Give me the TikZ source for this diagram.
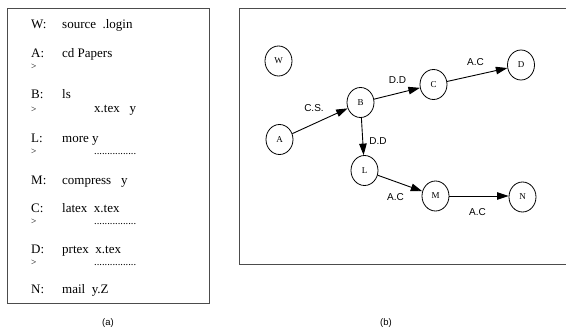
\documentclass[tikz,border=0pt]{standalone}
\usepackage{fontspec}
\setmainfont{Liberation Serif}
\newfontfamily\sansf{Liberation Sans}
\usetikzlibrary{shapes.geometric,arrows.meta}
\tikzset{
  st/.style={ellipse,draw,line width=0.8pt,minimum width=27pt,minimum height=30pt,inner sep=0pt,font=\fontsize{9}{10}\selectfont},
  conn/.style={line width=0.9pt,-{Triangle[length=11.5pt,width=7.5pt]}},
  elab/.style={font=\sansf\fontsize{10}{11}\selectfont,inner sep=0pt},
  capt/.style={font=\sansf\fontsize{9.5}{10}\selectfont,inner sep=0pt},
  lab/.style={anchor=base west,inner sep=0pt,font=\fontsize{13}{14}\selectfont},
  prompt/.style={anchor=base west,inner sep=0pt,font=\fontsize{9.5}{10}\selectfont},
  dots/.style={anchor=base west,inner sep=0pt,font=\fontsize{10.5}{11}\selectfont},
  boxline/.style={draw=black!70,line width=0.9pt}
}
\begin{document}
\begin{tikzpicture}[x=1pt,y=-1pt]
\useasboundingbox (0,0) rectangle (566,331);
% left box
\draw[boxline] (7.5,8) rectangle (209,303);
\node[lab] (lw) at (31,29) {W:};
\node[lab] (cw) at (62,29) {source\ \ .login};
\node[lab] (la) at (31,57.5) {A:};
\node[lab] (ca) at (62,57.5) {cd Papers};
\node[prompt] (pa) at (31,70) {>};
\node[lab] (lb) at (31,99) {B:};
\node[lab] (cb) at (62,99) {ls};
\node[prompt] (pb) at (31,113) {>};
\node[lab] (ob) at (94,113) {x.tex\ \ \ y};
\node[lab] (ll) at (31,142.5) {L:};
\node[lab] (cl) at (62,142.5) {more y};
\node[prompt] (pl) at (31,155) {>};
\node[dots] (ol) at (94,155) {................};
\node[lab] (lm) at (31,185) {M:};
\node[lab] (cm) at (62,185) {compress\ \ \ y};
\node[lab] (lc) at (31,212.5) {C:};
\node[lab] (cc) at (62,212.5) {latex\ \ x.tex};
\node[prompt] (pc) at (31,225) {>};
\node[dots] (oc) at (94,225) {................};
\node[lab] (ld) at (31,253.5) {D:};
\node[lab] (cd) at (62,253.5) {prtex\ \ x.tex};
\node[prompt] (pd) at (31,266) {>};
\node[dots] (od) at (94,266) {................};
\node[lab] (ln) at (31,294) {N:};
\node[lab] (cn) at (62,294) {mail\ \ y.Z};
\node[capt] (capa) at (108,323) {(a)};
% right box (open to the right)
\draw[boxline] (566,8) -- (239,8) -- (239,264) -- (566,264);
\node[st] (W) at (278.5,61) {W};
\node[st] (A) at (279.5,139.5) {A};
\node[st] (B) at (360.5,102.5) {B};
\node[st] (C) at (433.5,84.5) {C};
\node[st] (D) at (521,65) {D};
\node[st] (L) at (364.5,170.5) {L};
\node[st] (M) at (435.5,196) {M};
\node[st] (N) at (522.5,197) {N};
\draw[conn] (A) -- (B);
\draw[conn] (B) -- (C);
\draw[conn] (C) -- (D);
\draw[conn] (B) -- (L);
\draw[conn] (L) -- (M);
\draw[conn] (M.east) -- (N.west |- M.east);
\node[elab] (e1) at (314,108) {C.S.};
\node[elab] (e2) at (397.5,80) {D.D};
\node[elab] (e3) at (475.5,62) {A.C};
\node[elab] (e4) at (378,141) {D.D};
\node[elab] (e5) at (395.5,197.5) {A.C};
\node[elab] (e6) at (477.5,212.5) {A.C};
\node[capt] (capb) at (386,323) {(b)};
\end{tikzpicture}
\end{document}
